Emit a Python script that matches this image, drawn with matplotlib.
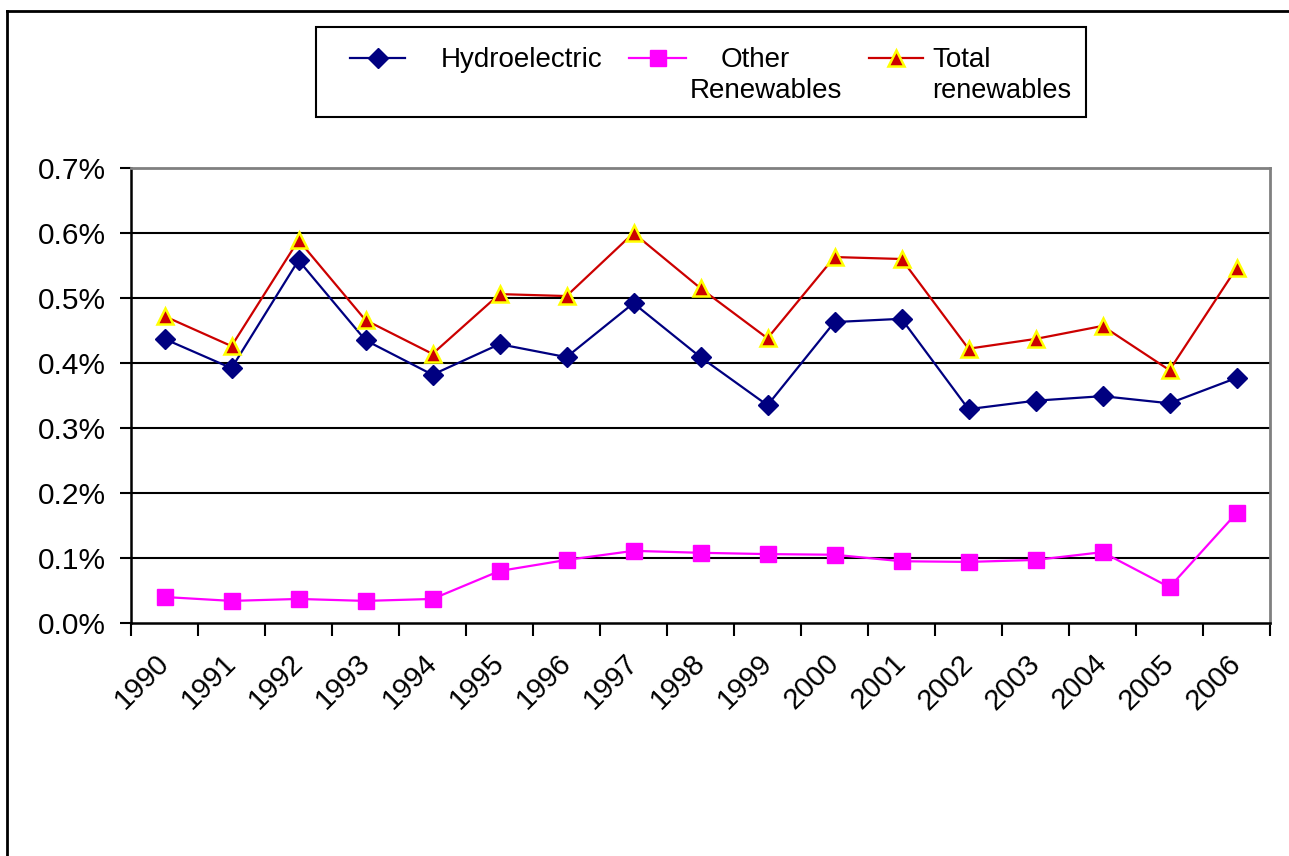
import numpy as np
import matplotlib.pyplot as plt
from matplotlib.lines import Line2D
from matplotlib.patches import Rectangle
from matplotlib.ticker import FuncFormatter, FixedLocator

plt.rcParams['font.family'] = ['Liberation Sans', 'DejaVu Sans']

years = [str(y) for y in range(1990, 2007)]
# shares in percent
hydro = [0.437, 0.392, 0.558, 0.435, 0.382, 0.429, 0.409, 0.492, 0.409,
         0.335, 0.463, 0.468, 0.329, 0.342, 0.349, 0.338, 0.377]
other = [0.040, 0.034, 0.037, 0.034, 0.037, 0.080, 0.097, 0.111, 0.108,
         0.106, 0.105, 0.095, 0.094, 0.097, 0.109, 0.055, 0.169]
total = [0.472, 0.426, 0.589, 0.466, 0.414, 0.506, 0.503, 0.600, 0.515,
         0.438, 0.563, 0.560, 0.422, 0.437, 0.457, 0.389, 0.546]
yticks = [0.0, 0.1, 0.2, 0.3, 0.4, 0.5, 0.6, 0.7]

hydro_style = dict(color='#000080', marker='D', ms=10, mfc='#000080',
                   mec='#000080')
other_style = dict(color='#FF00FF', marker='s', ms=11, mfc='#FF00FF',
                   mec='#FF00FF')
total_style = dict(color='#CC0000', marker='^', ms=12, mfc='#CC0000',
                   mec='#FFFF00', mew=1.8)

W, H = 1289, 856
fig = plt.figure(figsize=(W / 100, H / 100), dpi=100)
ax = fig.add_axes([131 / W, 1 - 623 / H, (1270 - 131) / W, (623 - 168) / H])

x = np.arange(len(years))
ax.plot(x, hydro, lw=1.6, zorder=4, **hydro_style)
ax.plot(x, other, lw=1.6, zorder=4, **other_style)
ax.plot(x, total, lw=1.6, zorder=5, **total_style)

ax.set_xlim(-0.5, len(years) - 0.5)
ax.set_ylim(0, 0.7)
ax.set_yticks(yticks)
ax.yaxis.set_major_formatter(FuncFormatter(lambda v, p: f'{v:.1f}%'))
for v in yticks[1:-1]:
    ax.axhline(v, color='black', lw=1.5, zorder=1)

ax.set_xticks(x)
ax.set_xticklabels(years, rotation=45, ha='right', va='center',
                   rotation_mode='anchor')
ax.xaxis.set_minor_locator(FixedLocator(np.arange(-0.5, len(years), 1.0)))
ax.tick_params(axis='x', which='major', length=0, pad=26, labelsize=21)
ax.tick_params(axis='x', which='minor', length=9, width=1.5, direction='out')
ax.tick_params(axis='y', length=8, width=1.5, direction='out', pad=10,
               labelsize=21.5)

for side in ('top', 'right'):
    ax.spines[side].set_color('#808080')
    ax.spines[side].set_linewidth(2)
for side in ('left', 'bottom'):
    ax.spines[side].set_color('black')
    ax.spines[side].set_linewidth(1.8)

# legend box drawn by hand so the handles sit on the first text line
fig.patches.append(Rectangle((316 / W, 1 - 117 / H), (1086 - 316) / W, 90 / H,
                             transform=fig.transFigure, fill=False,
                             ec='black', lw=1.5))
row = 1 - 58 / H
for x0, x1, style in [(350, 405, hydro_style), (629, 686, other_style),
                      (869, 923, total_style)]:
    fig.add_artist(Line2D([x0 / W, x1 / W], [row, row], lw=1.6,
                          color=style['color'], transform=fig.transFigure))
    fig.add_artist(Line2D([(x0 + x1) / 2 / W], [row], ls='none',
                          transform=fig.transFigure, **style))

base1, base2 = 1 - 67 / H, 1 - 98 / H
fig.text(441 / W, base1, 'Hydroelectric', fontsize=20, va='baseline')
fig.text(755 / W, base1, 'Other', fontsize=20, va='baseline', ha='center')
fig.text(766 / W, base2, 'Renewables', fontsize=20, va='baseline',
         ha='center')
fig.text(932 / W, base1, 'Total', fontsize=20, va='baseline')
fig.text(932 / W, base2, 'renewables', fontsize=19.5, va='baseline')

# outer chart frame
fig.add_artist(Line2D([7 / W, 7 / W], [0, 1 - 11 / H], color='black', lw=2,
                      transform=fig.transFigure))
fig.add_artist(Line2D([7 / W, 1], [1 - 11 / H, 1 - 11 / H], color='black',
                      lw=2, transform=fig.transFigure))

fig.savefig('out.png', dpi=100)
